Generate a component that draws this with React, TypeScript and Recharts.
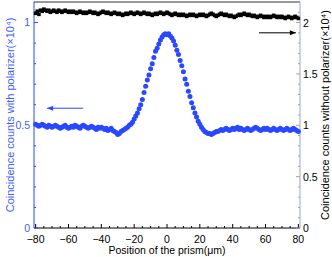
import { ScatterChart, Scatter, XAxis, YAxis, ReferenceLine } from "recharts";

// Prism scan: coincidence counts with / without polarizer (two y axes).

const positions = [
  -80, -79, -78, -77, -76, -75, -74, -73, -72, -71,
  -70, -69, -68, -67, -66, -65, -64, -63, -62, -61,
  -60, -59, -58, -57, -56, -55, -54, -53, -52, -51,
  -50, -49, -48, -47, -46, -45, -44, -43, -42, -41,
  -40, -39, -38, -37, -36, -35, -34, -33, -32, -31,
  -30, -29, -28, -27, -26, -25, -24, -23, -22, -21,
  -20, -19, -18, -17, -16, -15, -14, -13, -12, -11,
  -10, -9, -8, -7, -6, -5, -4, -3, -2, -1,
  0, 1, 2, 3, 4, 5, 6, 7, 8, 9,
  10, 11, 12, 13, 14, 15, 16, 17, 18, 19,
  20, 21, 22, 23, 24, 25, 26, 27, 28, 29,
  30, 31, 32, 33, 34, 35, 36, 37, 38, 39,
  40, 41, 42, 43, 44, 45, 46, 47, 48, 49,
  50, 51, 52, 53, 54, 55, 56, 57, 58, 59,
  60, 61, 62, 63, 64, 65, 66, 67, 68, 69,
  70, 71, 72, 73, 74, 75, 76, 77, 78, 79, 80,
];

// with polarizer (x10^4), left axis
const withPolarizer = [
  0.505, 0.5, 0.495, 0.5, 0.505, 0.5, 0.495, 0.49, 0.5, 0.495,
  0.49, 0.495, 0.5, 0.495, 0.49, 0.485, 0.49, 0.495, 0.5, 0.49,
  0.485, 0.49, 0.495, 0.49, 0.5, 0.495, 0.49, 0.485, 0.495, 0.5,
  0.495, 0.49, 0.485, 0.49, 0.495, 0.49, 0.485, 0.48, 0.49, 0.485,
  0.49, 0.485, 0.48, 0.485, 0.475, 0.48, 0.485, 0.475, 0.47, 0.465,
  0.455, 0.46, 0.47, 0.475, 0.48, 0.485, 0.49, 0.5, 0.505, 0.515,
  0.53, 0.545, 0.56, 0.58, 0.6, 0.625, 0.66, 0.69, 0.72, 0.745,
  0.775, 0.8, 0.83, 0.86, 0.875, 0.895, 0.915, 0.93, 0.94, 0.945,
  0.94, 0.945, 0.935, 0.925, 0.91, 0.89, 0.865, 0.845, 0.815, 0.79,
  0.76, 0.725, 0.7, 0.665, 0.64, 0.61, 0.585, 0.56, 0.54, 0.52,
  0.505, 0.49, 0.48, 0.47, 0.465, 0.46, 0.46, 0.455, 0.46, 0.465,
  0.47, 0.47, 0.475, 0.48, 0.475, 0.48, 0.485, 0.48, 0.475, 0.48,
  0.485, 0.48, 0.485, 0.49, 0.48, 0.485, 0.48, 0.475, 0.48, 0.485,
  0.48, 0.475, 0.48, 0.485, 0.49, 0.485, 0.48, 0.475, 0.48, 0.485,
  0.48, 0.485, 0.48, 0.475, 0.48, 0.485, 0.48, 0.475, 0.48, 0.485,
  0.48, 0.475, 0.48, 0.485, 0.48, 0.475, 0.48, 0.485, 0.48, 0.475, 0.47,
];

// without polarizer (x10^4), right axis
const withoutPolarizer = [
  2.09, 2.11, 2.08, 2.12, 2.11, 2.13, 2.12, 2.11, 2.12, 2.1,
  2.11, 2.12, 2.11, 2.1, 2.12, 2.11, 2.1, 2.11, 2.12, 2.11,
  2.1, 2.11, 2.1, 2.11, 2.1, 2.09, 2.1, 2.11, 2.1, 2.09,
  2.1, 2.09, 2.1, 2.11, 2.1, 2.09, 2.1, 2.09, 2.08, 2.09,
  2.1, 2.11, 2.1, 2.09, 2.1, 2.09, 2.08, 2.09, 2.1, 2.09,
  2.08, 2.09, 2.08, 2.07, 2.08, 2.09, 2.08, 2.09, 2.1, 2.09,
  2.08, 2.09, 2.1, 2.09, 2.08, 2.09, 2.1, 2.09, 2.08, 2.09,
  2.08, 2.07, 2.08, 2.09, 2.08, 2.09, 2.1, 2.09, 2.08, 2.09,
  2.1, 2.09, 2.08, 2.07, 2.08, 2.09, 2.08, 2.07, 2.08, 2.07,
  2.08, 2.07, 2.06, 2.07, 2.08, 2.07, 2.08, 2.07, 2.06, 2.07,
  2.08, 2.07, 2.08, 2.07, 2.06, 2.07, 2.08, 2.09, 2.08, 2.07,
  2.06, 2.07, 2.08, 2.09, 2.08, 2.07, 2.08, 2.07, 2.06, 2.07,
  2.06, 2.05, 2.06, 2.07, 2.08, 2.07, 2.08, 2.09, 2.08, 2.07,
  2.08, 2.07, 2.06, 2.07, 2.06, 2.05, 2.06, 2.07, 2.06, 2.05,
  2.06, 2.05, 2.06, 2.05, 2.06, 2.07, 2.06, 2.05, 2.06, 2.05,
  2.06, 2.05, 2.04, 2.05, 2.06, 2.05, 2.04, 2.05, 2.06, 2.05, 2.04,
];

const xTicks = [
  -80, -75, -70, -65, -60, -55, -50, -45, -40, -35, -30, -25, -20, -15, -10, -5,
  0, 5, 10, 15, 20, 25, 30, 35, 40, 45, 50, 55, 60, 65, 70, 75, 80,
];
const leftTicks = [0, 0.1, 0.2, 0.3, 0.4, 0.5, 0.6, 0.7, 0.8, 0.9, 1, 1.1];
const rightTicks = [
  0, 0.1, 0.2, 0.3, 0.4, 0.5, 0.6, 0.7, 0.8, 0.9, 1, 1.1,
  1.2, 1.3, 1.4, 1.5, 1.6, 1.7, 1.8, 1.9, 2, 2.1, 2.2,
];

const BLUE = "#2a48ff";
const BLUE_TEXT = "#4060ff";
const RIGHT_AXIS = "#9ea2d2";
const FONT = "'Liberation Sans', Arial, sans-serif";

const blueData = positions.map((x, i) => ({ x, y: withPolarizer[i] }));
const blackData = positions.map((x, i) => ({ x, y: withoutPolarizer[i] }));

const isMult = (v: number, step: number) =>
  Math.abs(v / step - Math.round(v / step)) < 1e-6;

const fmtNum = (v: number) => (v < 0 ? "\u2212" + String(-v) : String(v));

const BottomTick = (p: any) => {
  const v = p.payload.value;
  const major = isMult(v, 20);
  return (
    <g>
      <line x1={p.x} x2={p.x} y1={p.y} y2={p.y - (major ? 4 : 2)} stroke="#000" />
      {major && (
        <text x={p.x} y={p.y + 15} textAnchor="middle" fontSize={10.5} fontFamily={FONT} fill="#000">
          {fmtNum(v)}
        </text>
      )}
    </g>
  );
};

const LeftTick = (p: any) => {
  const v = p.payload.value;
  if (v > 1.05) return null;
  const major = isMult(v, 0.5);
  return (
    <g>
      <line x1={p.x} x2={p.x + (major ? 4 : 2)} y1={p.y} y2={p.y} stroke={BLUE} />
      {major && (
        <text x={p.x - 4} y={p.y + 3.5} textAnchor="end" fontSize={10.5} fontFamily={FONT} fill={BLUE_TEXT}>
          {String(v)}
        </text>
      )}
    </g>
  );
};

const RightTick = (p: any) => {
  const v = p.payload.value;
  if (v > 2.15) return null;
  const major = isMult(v, 0.5);
  return (
    <g>
      <line x1={p.x} x2={p.x - (major ? 4 : 2)} y1={p.y} y2={p.y} stroke={RIGHT_AXIS} />
      {major && (
        <text x={p.x + 3} y={p.y + 4} textAnchor="start" fontSize={10.5} fontFamily={FONT} fill="#000">
          {String(v)}
        </text>
      )}
    </g>
  );
};

const sideTitle = (text: string, color: string, dx: number) => (props: any) => {
  const vb = props.viewBox;
  const cx = vb.x + dx;
  const cy = vb.y + vb.height / 2;
  return (
    <text
      x={cx}
      y={cy}
      transform={`rotate(-90 ${cx} ${cy})`}
      textAnchor="middle"
      dominantBaseline="central"
      fontSize={11}
      fontFamily={FONT}
      fill={color}
    >
      {text}
    </text>
  );
};

const arrow = (color: string, headAtEnd: boolean) => (p: any) => {
  const tipX = headAtEnd ? p.x2 : p.x1;
  const tipY = headAtEnd ? p.y2 : p.y1;
  const dir = headAtEnd ? -1 : 1;
  return (
    <g>
      <line x1={p.x1} y1={p.y1} x2={p.x2} y2={p.y2} stroke={color} strokeWidth={1} />
      <polygon
        points={`${tipX},${tipY} ${tipX + dir * 6},${tipY - 2.5} ${tipX + dir * 6},${tipY + 2.5}`}
        fill={color}
      />
    </g>
  );
};

const Dot = (p: any) => <circle cx={p.cx} cy={p.cy} r={2.5} fill={BLUE} />;
const Square = (p: any) => <rect x={p.cx - 1.8} y={p.cy - 1.8} width={3.6} height={3.6} fill="#000" />;

export default function App() {
  return (
    <div style={{ position: "absolute", left: 0, top: 0, width: 332, height: 257, background: "#fff" }}>
      <ScatterChart width={332} height={257} margin={{ top: 2, right: 0, bottom: 0, left: 0 }}>
        <XAxis
          type="number"
          dataKey="x"
          domain={[-81, 81]}
          ticks={xTicks}
          interval={0}
          height={29}
          tickSize={0}
          tickMargin={0}
          tick={BottomTick}
          axisLine={{ stroke: "#000" }}
          label={{
            content: (props: any) => {
              const vb = props.viewBox;
              return (
                <text x={vb.x + vb.width / 2} y={vb.y + 26} textAnchor="middle" fontSize={10.5} fontFamily={FONT} fill="#000">
                  Position of the prism(μm)
                </text>
              );
            },
          }}
        />
        <YAxis
          yAxisId="left"
          type="number"
          dataKey="y"
          domain={[0, 1.1]}
          ticks={leftTicks}
          interval={0}
          width={34}
          tickSize={0}
          tickMargin={0}
          tick={LeftTick}
          axisLine={{ stroke: BLUE }}
          label={{ content: sideTitle("Coincidence counts with polarizer(×10⁴)", BLUE_TEXT, 10) }}
        />
        <YAxis
          yAxisId="right"
          orientation="right"
          type="number"
          dataKey="y"
          domain={[0, 2.2]}
          ticks={rightTicks}
          interval={0}
          width={32}
          tickSize={0}
          tickMargin={0}
          tick={RightTick}
          axisLine={{ stroke: RIGHT_AXIS }}
          label={{ content: sideTitle("Coincidence counts without polarizer(×10⁴)", "#000", 25) }}
        />
        <ReferenceLine yAxisId="left" y={1.1} stroke="#333" />
        <Scatter yAxisId="left" data={blueData} shape={Dot} isAnimationActive={false} />
        <Scatter yAxisId="right" data={blackData} shape={Square} isAnimationActive={false} />
        <ReferenceLine
          yAxisId="left"
          segment={[{ x: -73, y: 0.583 }, { x: -51, y: 0.583 }]}
          shape={arrow(BLUE, false)}
        />
        <ReferenceLine
          yAxisId="right"
          segment={[{ x: 56, y: 1.9 }, { x: 78.5, y: 1.9 }]}
          shape={arrow("#000", true)}
        />
      </ScatterChart>
    </div>
  );
}
